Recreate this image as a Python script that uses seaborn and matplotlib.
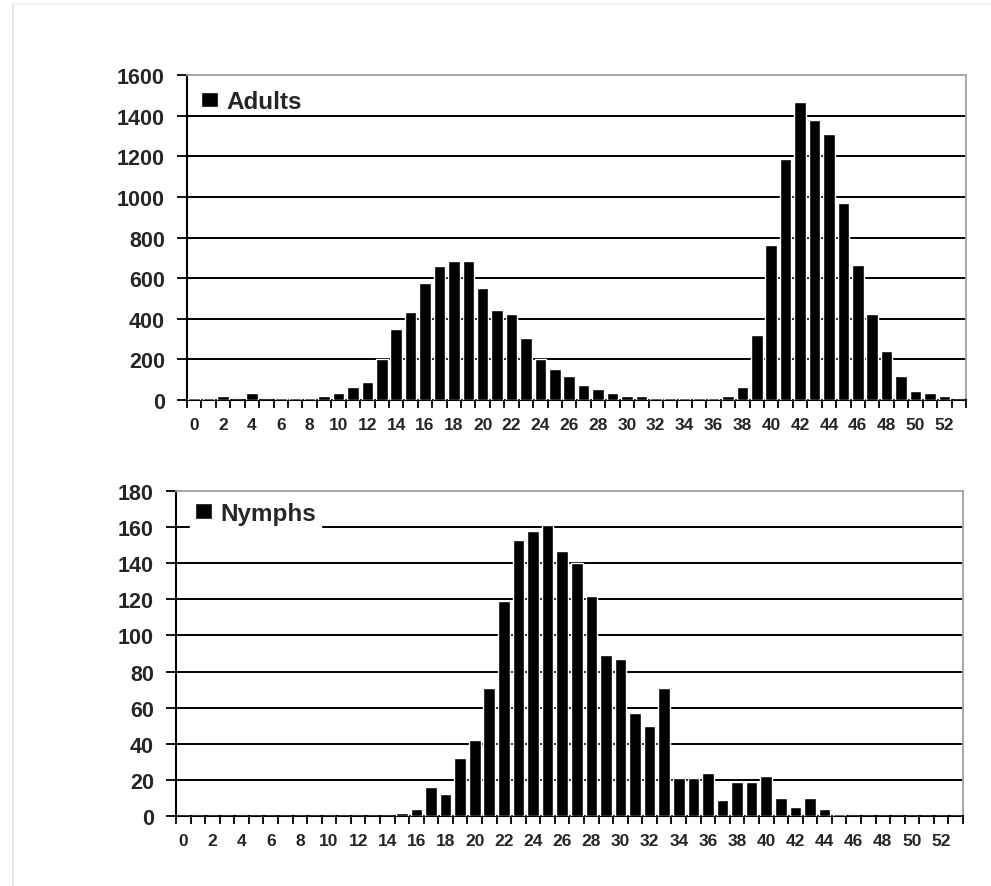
import numpy as np
import pandas as pd
import seaborn as sns
import matplotlib.pyplot as plt
from matplotlib.lines import Line2D

# Weekly counts
weeks = list(range(54))
adults = [10, 10, 21, 0, 34, 0, 10, 10, 10, 21,
          34, 66, 89, 202, 348, 433, 574, 661, 684, 684,
          552, 444, 423, 305, 202, 152, 120, 75, 54, 34,
          21, 21, 10, 10, 10, 10, 10, 21, 66, 318,
          762, 1185, 1468, 1380, 1312, 968, 663, 425, 240, 120,
          46, 34, 21, 0]
nymphs = [0, 0, 0, 0, 0, 0, 0, 0, 0, 0,
          0, 0, 0, 0, 0, 1.5, 4, 16, 12, 32,
          42, 71, 119, 153, 158, 161, 147, 140, 122, 89,
          87, 57, 50, 71, 21, 21, 24, 9, 19, 19,
          22, 10, 5, 10, 4, 1.3, 0, 0, 0, 0,
          0, 0, 0, 0]
xlabels = [str(w) for w in range(0, 54, 2)]

sns.set_style("white")
plt.rcParams["font.family"] = ["Liberation Sans", "DejaVu Sans"]
plt.rcParams["font.weight"] = "bold"
plt.rcParams["xtick.bottom"] = True
plt.rcParams["ytick.left"] = True

df = pd.DataFrame({"Week": weeks, "Adults": adults, "Nymphs": nymphs})

fig = plt.figure(figsize=(9.91, 8.87), dpi=100)
ax1 = fig.add_axes([0.1887, 0.5479, 0.786, 0.3664])
ax2 = fig.add_axes([0.1776, 0.0789, 0.7941, 0.3664])

# light page border as in the scanned figure
fig.add_artist(Line2D([13 / 991, 13 / 991], [0, 1 - 5 / 887], color="#dddddd", lw=1.2))
fig.add_artist(Line2D([13 / 991, 1], [1 - 5 / 887, 1 - 5 / 887], color="#eeeeee", lw=1.2))


def style(ax, col, ymax, ystep, anchor, boxed):
    sns.barplot(data=df, x="Week", y=col, color="black", saturation=1, width=0.8,
                ax=ax, label=col, zorder=3)
    ax.set_xlim(-0.5, 53.5)
    ax.set_ylim(0, ymax)
    ax.set_yticks(np.arange(0, ymax + 1, ystep))
    ax.set_xticks(range(0, 54, 2))
    ax.set_xticklabels(xlabels)
    ax.set_xticks(np.arange(-0.5, 54, 1), minor=True)
    ax.set_xlabel("")
    ax.set_ylabel("")
    ax.tick_params(axis="x", which="major", bottom=True, length=0, labelsize=12.5, pad=12)
    ax.tick_params(axis="x", which="minor", bottom=True, length=6, width=1.3,
                   color="black", direction="out")
    ax.tick_params(axis="y", which="major", left=True, length=7, width=1.3, color="black",
                   direction="out", labelsize=15.5, pad=9)
    ax.yaxis.grid(True, color="black", linewidth=1.4, zorder=1)
    ax.set_axisbelow(True)
    ax.get_ygridlines()[-1].set_visible(False)
    for s in ["left", "bottom"]:
        ax.spines[s].set_color("black")
        ax.spines[s].set_linewidth(1.5)
    for s in ["top", "right"]:
        ax.spines[s].set_color("#a0a0a0")
        ax.spines[s].set_linewidth(1.3)
    for lab in ax.get_xticklabels() + ax.get_yticklabels():
        lab.set_fontweight("bold")
    leg = ax.legend(loc="upper left", bbox_to_anchor=anchor, frameon=boxed, fancybox=False,
                    framealpha=1, edgecolor="white", facecolor="white",
                    prop={"size": 17.5, "weight": "bold"}, handlelength=0.7,
                    handleheight=0.6, handletextpad=0.35, borderpad=0.2, borderaxespad=0)
    leg.set_zorder(5)


style(ax1, "Adults", 1600, 200, (0.012, 0.968), False)
style(ax2, "Nymphs", 180, 20, (0.018, 0.982), True)

fig.savefig("out.png", dpi=100, facecolor="white")
